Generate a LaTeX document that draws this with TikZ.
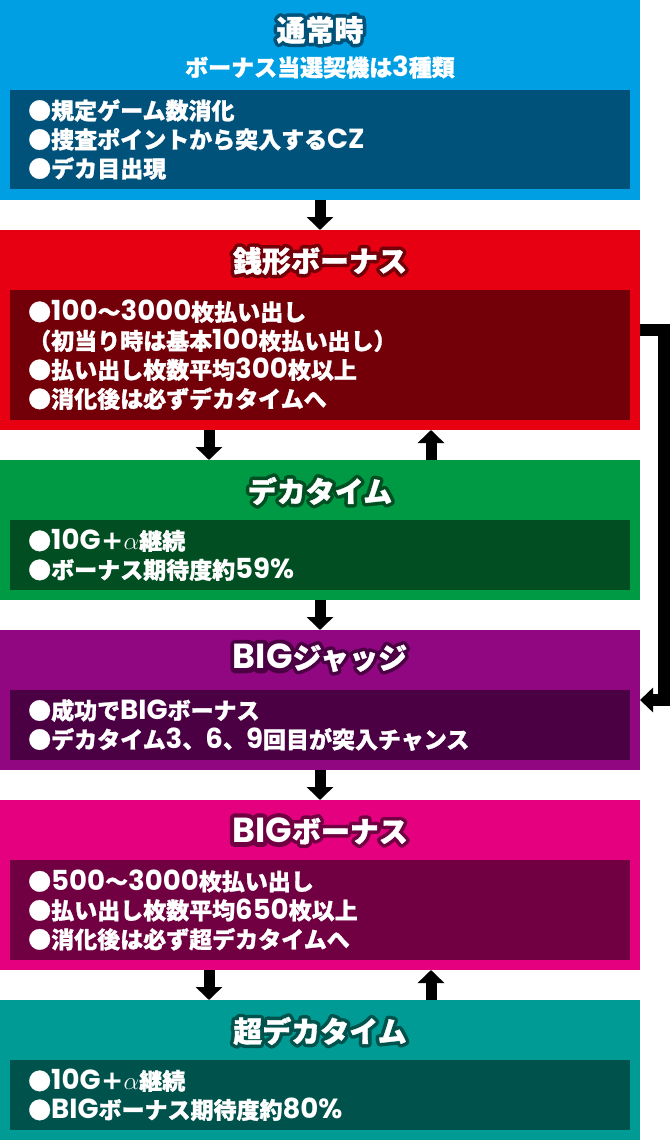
\documentclass[tikz,border=0pt]{standalone}
\usepackage{fontspec}
\setmainfont{Noto Sans CJK JP}[BoldFeatures={FakeBold=1.2}]
\newfontfamily\latf{Poppins}[Scale=1.2]
\newfontfamily\latfh{Poppins}[Scale=1.2, BoldFeatures={FakeBold=26}]
\newfontfamily\cjkh{Noto Sans CJK JP}[BoldFeatures={FakeBold=26}]
\newcommand\lt[1]{{\latf #1}}
\newcommand\ttltxt[2]{\leavevmode\rlap{\color{#1}\cjkh\renewcommand\lt[1]{{\latfh ##1}}#2}#2}
\usetikzlibrary{arrows.meta}
\definecolor{cBlue}{HTML}{009FE3}
\definecolor{dBlue}{HTML}{00527A}
\definecolor{cRed}{HTML}{E60012}
\definecolor{dRed}{HTML}{730009}
\definecolor{cGreen}{HTML}{009A44}
\definecolor{dGreen}{HTML}{004E22}
\definecolor{cPurple}{HTML}{910782}
\definecolor{dPurple}{HTML}{4B0044}
\definecolor{cMag}{HTML}{E4007F}
\definecolor{dMag}{HTML}{700041}
\definecolor{cTeal}{HTML}{009B95}
\definecolor{dTeal}{HTML}{00534C}
\begin{document}
\begin{tikzpicture}[x=1pt,y=-1pt, line join=round,
  obox/.style={rectangle, fill=#1, draw=none, inner sep=0pt, outer sep=0pt, minimum width=640pt, anchor=north west},
  ibox/.style={rectangle, fill=#1, draw=none, inner sep=0pt, outer sep=0pt, minimum width=620pt, anchor=north west},
  ttl/.style={text=white, inner sep=0pt, font=\bfseries\fontsize{29}{29}\selectfont},
  subttl/.style={text=white, inner sep=0pt, font=\bfseries\fontsize{23}{23}\selectfont},
  body/.style={text=white, inner sep=0pt, anchor=west, xshift=18pt, align=left, font=\bfseries\fontsize{23}{29}\selectfont},
  arr/.style={line width=11pt, line join=miter, -{Triangle[width=26pt,length=13pt]}},
  larr/.style={line width=12pt, line join=miter, -{Triangle[width=24pt,length=13pt]}}
]
\useasboundingbox (0,0) rectangle (670,1140);
\coordinate (cl) at (209,0);
\coordinate (cr) at (431,0);

% box 1
\node[obox=cBlue, minimum height=200pt] (b1) at (0,0) {};
\node[ibox=dBlue, minimum height=99pt] (i1) at (10,90) {};
\node[ttl] (t1) at (320,30) {\ttltxt{dBlue}{通常時}};
\node[subttl] (s1) at (320,67) {ボーナス当選契機は\lt{3}種類};
\node[body] (x1) at (i1.west) {●規定ゲーム数消化\\●捜査ポイントから突入する\lt{CZ}\\●デカ目出現};

% box 2
\node[obox=cRed, minimum height=200pt] (b2) at (0,230) {};
\node[ibox=dRed, minimum height=130pt] (i2) at (10,290) {};
\node[ttl] (t2) at (320,261) {\ttltxt{dRed}{銭形ボーナス}};
\node[body] (x2) at (i2.west) {●\lt{100}～\lt{3000}枚払い出し\\（初当り時は基本\lt{100}枚払い出し）\\●払い出し枚数平均\lt{300}枚以上\\●消化後は必ずデカタイムへ};

% box 3
\node[obox=cGreen, minimum height=140pt] (b3) at (0,460) {};
\node[ibox=dGreen, minimum height=70pt] (i3) at (10,520) {};
\node[ttl] (t3) at (320,491) {\ttltxt{dGreen}{デカタイム}};
\node[body] (x3) at (i3.west) {●\lt{10G}＋$\alpha$継続\\●ボーナス期待度約\lt{59\%}};

% box 4
\node[obox=cPurple, minimum height=140pt] (b4) at (0,630) {};
\node[ibox=dPurple, minimum height=70pt] (i4) at (10,690) {};
\node[ttl] (t4) at (320,658) {\ttltxt{dPurple}{\lt{BIG}ジャッジ}};
\node[body] (x4) at (i4.west) {●成功で\lt{BIG}ボーナス\\●デカタイム\lt{3}、\lt{6}、\lt{9}回目が突入チャンス};

% box 5
\node[obox=cMag, minimum height=170pt] (b5) at (0,800) {};
\node[ibox=dMag, minimum height=100pt] (i5) at (10,860) {};
\node[ttl] (t5) at (320,831) {\ttltxt{dMag}{\lt{BIG}ボーナス}};
\node[body] (x5) at (i5.west) {●\lt{500}～\lt{3000}枚払い出し\\●払い出し枚数平均\lt{650}枚以上\\●消化後は必ず超デカタイムへ};

% box 6
\node[obox=cTeal, minimum height=140pt] (b6) at (0,1000) {};
\node[ibox=dTeal, minimum height=70pt] (i6) at (10,1060) {};
\node[ttl] (t6) at (320,1031) {\ttltxt{dTeal}{超デカタイム}};
\node[body] (x6) at (i6.west) {●\lt{10G}＋$\alpha$継続\\●\lt{BIG}ボーナス期待度約\lt{80\%}};

% connectors
\draw[arr] (b1.south) -- (b2.north);
\draw[arr] (b2.south -| cl) -- (b3.north -| cl);
\draw[arr] (b3.north -| cr) -- (b2.south -| cr);
\draw[arr] (b3.south) -- (b4.north);
\draw[arr] (b4.south) -- (b5.north);
\draw[arr] (b5.south -| cl) -- (b6.north -| cl);
\draw[arr] (b6.north -| cr) -- (b5.south -| cr);
\draw[larr] (b2.east) -- ++(24,0) |- (b4.east);
\end{tikzpicture}
\end{document}
